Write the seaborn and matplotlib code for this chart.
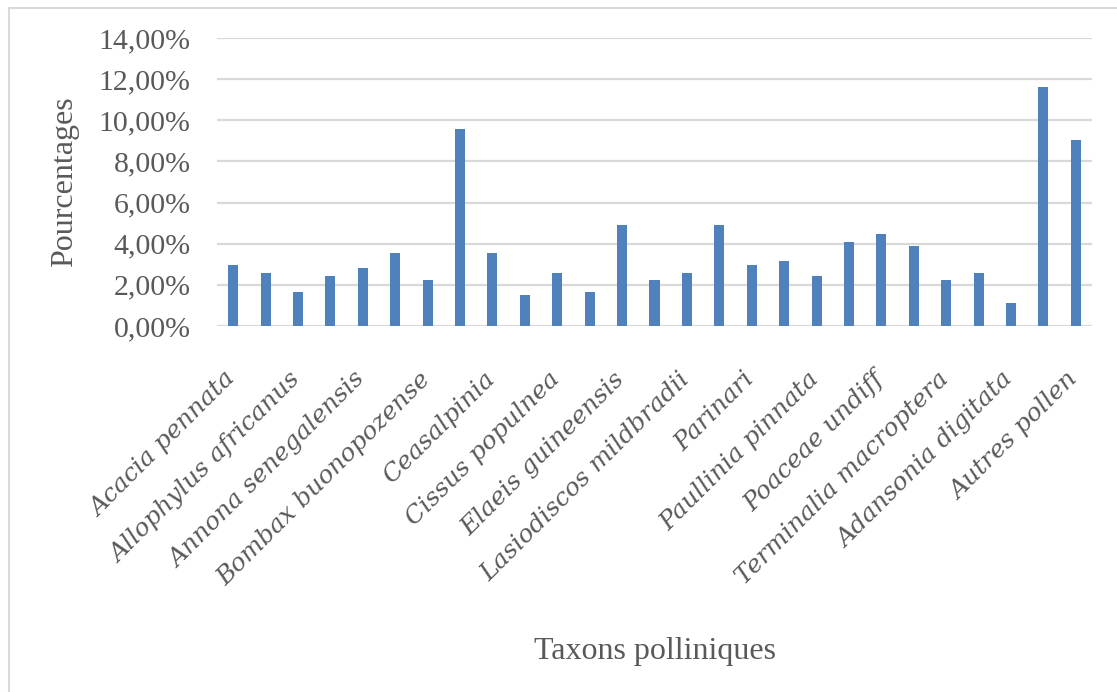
import numpy as np
import pandas as pd
import matplotlib
matplotlib.use("Agg")
import matplotlib.pyplot as plt
import matplotlib.transforms as mtransforms
from matplotlib.ticker import FuncFormatter
from matplotlib.patches import Rectangle
import seaborn as sns

# ---- data ----
tick_labels = [
    "Acacia pennata", "", "Allophylus africanus", "", "Annona senegalensis", "",
    "Bombax buonopozense", "", "Ceasalpinia", "", "Cissus populnea", "",
    "Elaeis guineensis", "", "Lasiodiscos mildbradii", "", "Parinari", "",
    "Paullinia pinnata", "", "Poaceae undiff", "", "Terminalia macroptera", "",
    "Adansonia digitata", "", "Autres pollen",
]
values = [
    2.97, 2.60, 1.67, 2.42, 2.81, 3.54, 2.22, 9.57, 3.54, 1.49, 2.60, 1.67,
    4.90, 2.22, 2.60, 4.90, 2.97, 3.16, 2.42, 4.10, 4.46, 3.91, 2.22, 2.60,
    1.10, 11.63, 9.02,
]
y_ticks = [0, 2, 4, 6, 8, 10, 12, 14]
x_title = "Taxons polliniques"
y_title = "Pourcentages"

# ---- style ----
sns.set_theme(style="white")
plt.rcParams["font.family"] = ["Liberation Serif", "DejaVu Serif"]
text_col = "#595959"
bar_col = "#4F81BD"
grid_col = "#D9D9D9"

fig = plt.figure(figsize=(11.17, 6.92), dpi=100)
ax = fig.add_axes([217 / 1117, 1 - 326 / 692, (1092 - 217) / 1117, (326 - 38) / 692])

pos = np.arange(len(values))
df = pd.DataFrame({"pos": pos, "val": values})
sns.barplot(data=df, x="pos", y="val", color=bar_col, width=0.31,
            saturation=1, linewidth=0, ax=ax)

ax.set_xlim(-0.5, len(values) - 0.5)
ax.set_ylim(0, 14)
ax.set_yticks(y_ticks)
ax.yaxis.set_major_formatter(FuncFormatter(lambda v, p: f"{v:.2f}".replace(".", ",") + "%"))
ax.yaxis.grid(True, color=grid_col, linewidth=1.6)
ax.set_axisbelow(True)
for s in ax.spines.values():
    s.set_visible(False)
ax.tick_params(axis="both", length=0)
ax.tick_params(axis="y", labelsize=21.5, labelcolor=text_col, pad=19)

ax.set_xticks(pos)
ax.set_xticklabels(tick_labels, rotation=45, ha="right", va="top",
                   rotation_mode="anchor", fontstyle="italic",
                   family=["DejaVu Serif"], fontsize=18, color=text_col)
ax.tick_params(axis="x", pad=30)
shift = mtransforms.ScaledTranslation(-9 / 100, 0, fig.dpi_scale_trans)
for lab in ax.get_xticklabels():
    lab.set_transform(lab.get_transform() + shift)
ax.set_xlabel("")
ax.set_ylabel("")

fig.text(65 / 1117, 1 - 182 / 692, y_title, rotation=90, ha="center", va="center",
         fontsize=23, color=text_col)
fig.text(655 / 1117, 1 - 652 / 692, x_title, ha="center", va="center",
         fontsize=23, color=text_col)

# chart frame
fig.patches.append(Rectangle((9.5 / 1117, -0.1), 1.2, 1.1 - 7.5 / 692,
                             transform=fig.transFigure, fill=False,
                             edgecolor="#D9D9D9", linewidth=1.5))

fig.savefig("out.png", dpi=100)
